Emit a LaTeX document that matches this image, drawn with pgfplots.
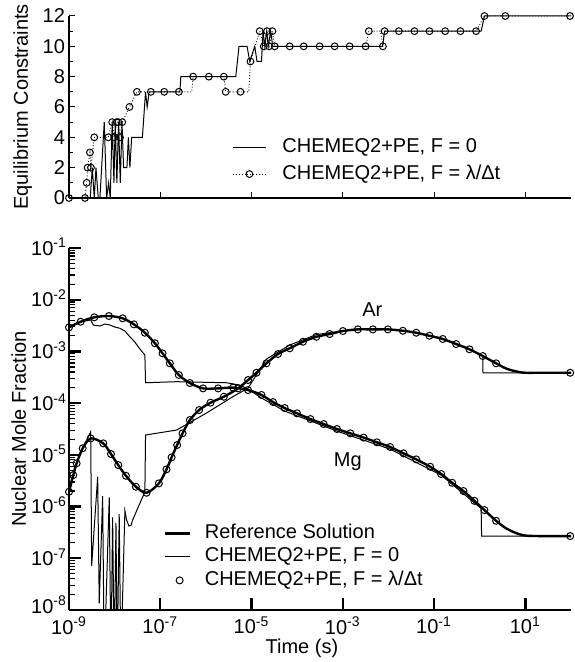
\documentclass[border=0pt]{standalone}
\usepackage{fontspec}
\setmainfont{Liberation Sans}
\usepackage{pgfplots}
\pgfplotsset{compat=1.18}
\begin{document}
\begin{tikzpicture}
\begin{axis}[
  at={(0,0)}, anchor=south west,
  scale only axis, width=251pt, height=91pt,
  xmode=log, xmin=1e-9, xmax=1e2, ymin=0, ymax=12,
  axis lines=left, axis line style={-, line width=0.6pt},
  tick align=inside, xminorticks=false,
  xtick={1e-9,1e-7,1e-5,1e-3,1e-1,1e1}, xticklabels={},
  ytick={0,2,4,6,8,10,12}, yticklabels={0,2,4,6,8,10,12},
  yticklabel style={xshift=1.5pt},
  minor ytick={1,3,5,7,9,11},
  major tick length=3pt, minor tick length=2pt,
  major tick style={black, line width=0.5pt}, minor tick style={black, line width=0.5pt},
  ylabel={Equilibrium Constraints},
  ylabel style={at={(axis description cs:-0.0817,0.5)}, anchor=base},
  clip mode=individual,
  legend cell align=left,
  legend style={at={(axis description cs:0.3247,0.3352)}, anchor=north west, draw=none, fill=none,
    inner sep=0pt, row sep=3.35pt, column sep=8pt,
    nodes={inner sep=0pt, text height=7.5pt, text depth=2.5pt}},
]
\addplot[black, line width=0.5pt, forget plot] coordinates {
(1e-9,0) (2.92e-9,0) (3.24e-9,2) (3.58e-9,0) (3.90e-9,2) (4.38e-9,0) (4.76e-9,0) (5.92e-9,5) (6.68e-9,0) (7.40e-9,1) (8.02e-9,0) (8.85e-9,5) (9.66e-9,1) (1.03e-8,5) (1.12e-8,1) (1.22e-8,5) (1.33e-8,1) (1.45e-8,5) (1.57e-8,2) (1.86e-8,2) (2.00e-8,4) (2.16e-8,2) (2.36e-8,4) (4.06e-8,4) (4.76e-8,7) (5.16e-8,6) (5.71e-8,7) (2.69e-7,7) (2.82e-7,8) (4.51e-6,8) (5.32e-6,10) (7.98e-6,10) (9.14e-6,9) (1.175e-5,10) (1.32e-5,9) (1.65e-5,9) (1.79e-5,11) (1.95e-5,10) (2.15e-5,11) (2.32e-5,10) (2.63e-5,11) (2.91e-5,10) (7.43e-3,10) (8.22e-3,11) (1.074,11) (1.268,12) (100,12)
};
\addplot[black, line width=0.45pt, densely dotted, forget plot] coordinates {
(1e-9,0) (2.24e-9,0) (2.44e-9,1) (2.56e-9,2) (2.88e-9,3) (3.03e-9,2) (3.58e-9,4) (7.24e-9,4) (8.85e-9,5) (9.79e-9,4) (1.107e-8,5) (1.20e-8,5) (1.306e-8,4) (1.466e-8,5) (2.11e-8,6) (3.08e-8,7) (6.22e-8,7) (1.22e-7,7) (2.55e-7,7) (4.91e-7,7) (5.25e-7,8) (1.16e-6,8) (2.47e-6,8) (2.72e-6,7) (5.71e-6,7) (8.69e-6,7) (9.46e-6,9) (1.51e-5,11) (1.85e-5,10) (2.18e-5,11) (2.42e-5,10) (2.86e-5,11) (3.22e-5,10) (6.86e-5,10) (1.39e-4,10) (3.10e-4,10) (6.62e-4,10) (1.41e-3,10) (3.16e-3,10) (3.72e-3,11) (6.71e-3,11) (7.55e-3,10) (8.22e-3,11) (1.69e-2,11) (3.72e-2,11) (7.92e-2,11) (0.175,11) (0.378,11) (0.834,11) (1.268,12) (3.648,12) (95,12)
};
\addplot[only marks, mark=o, mark size=1.7pt, mark options={black, line width=0.5pt}, forget plot] coordinates {
(1e-9,0) (2.24e-9,0) (2.44e-9,1) (2.56e-9,2) (2.88e-9,3) (3.03e-9,2) (3.58e-9,4) (7.24e-9,4) (8.85e-9,5) (9.79e-9,4) (1.107e-8,5) (1.20e-8,5) (1.306e-8,4) (1.466e-8,5) (2.11e-8,6) (3.08e-8,7) (6.22e-8,7) (1.22e-7,7) (2.55e-7,7) (5.25e-7,8) (1.16e-6,8) (2.47e-6,8) (2.72e-6,7) (5.71e-6,7) (9.46e-6,9) (1.51e-5,11) (1.85e-5,10) (2.18e-5,11) (2.42e-5,10) (2.86e-5,11) (3.22e-5,10) (6.86e-5,10) (1.39e-4,10) (3.10e-4,10) (6.62e-4,10) (1.41e-3,10) (3.16e-3,10) (3.72e-3,11) (7.55e-3,10) (8.22e-3,11) (1.69e-2,11) (3.72e-2,11) (7.92e-2,11) (0.175,11) (0.378,11) (0.834,11) (1.268,12) (3.648,12) (95,12)
};
\addlegendimage{legend image code/.code={\draw[black, line width=0.5pt] (0pt,0pt) -- (16.5pt,0pt);}}
\addlegendentry{CHEMEQ2+PE, F = 0}
\addlegendimage{legend image code/.code={\draw[black, line width=0.45pt, densely dotted] (0pt,0pt) -- (16.5pt,0pt); \draw[black, line width=0.5pt, solid] (8.25pt,0pt) circle (1.7pt);}}
\addlegendentry{CHEMEQ2+PE, F = λ/Δt}
\end{axis}

\begin{axis}[
  at={(0,-25pt)}, anchor=north west,
  scale only axis, width=251pt, height=181pt,
  xmode=log, ymode=log, xmin=1e-9, xmax=1e2, ymin=1e-8, ymax=1e-1,
  axis lines=left, axis line style={-, line width=1.3pt},
  tick align=inside, xminorticks=false,
  xtick={1e-9,1e-7,1e-5,1e-3,1e-1,1e1},
  xticklabels={10\textsuperscript{-9},10\textsuperscript{-7},10\textsuperscript{-5},10\textsuperscript{-3},10\textsuperscript{-1},10\textsuperscript{1}},
  ytick={1e-7,1e-6,1e-5,1e-4,1e-3,1e-2,1e-1},
  yticklabels={10\textsuperscript{-7},10\textsuperscript{-6},10\textsuperscript{-5},10\textsuperscript{-4},10\textsuperscript{-3},10\textsuperscript{-2},10\textsuperscript{-1}},
  yticklabel style={xshift=2.5pt, yshift=0.6pt},
  extra y ticks={1e-8}, extra y tick labels={10\textsuperscript{-8}},
  extra y tick style={grid=none, yticklabel style={yshift=2pt}},
  minor ytick={2e-8,3e-8,4e-8,5e-8,6e-8,7e-8,8e-8,9e-8,2e-7,3e-7,4e-7,5e-7,6e-7,7e-7,8e-7,9e-7,2e-6,3e-6,4e-6,5e-6,6e-6,7e-6,8e-6,9e-6,2e-5,3e-5,4e-5,5e-5,6e-5,7e-5,8e-5,9e-5,2e-4,3e-4,4e-4,5e-4,6e-4,7e-4,8e-4,9e-4,2e-3,3e-3,4e-3,5e-3,6e-3,7e-3,8e-3,9e-3,2e-2,3e-2,4e-2,5e-2,6e-2,7e-2,8e-2,9e-2},
  major tick length=6pt, minor tick length=3pt,
  major tick style={black, line width=1.2pt}, minor tick style={black, line width=0.6pt},
  xlabel={Time (s)},
  xlabel style={at={(axis description cs:0.464,-0.1188)}, anchor=base},
  ylabel={Nuclear Mole Fraction},
  ylabel style={at={(axis description cs:-0.0857,0.5)}, anchor=base},
  clip mode=individual,
  legend cell align=left,
  legend style={at={(axis description cs:0.1873,0.2403)}, anchor=north west, draw=none, fill=none,
    inner sep=0pt, row sep=1.75pt, column sep=7pt,
    nodes={inner sep=0pt, text height=7.5pt, text depth=2.5pt}},
]
% Mg reference
\addplot[black, line width=1.2pt, smooth, tension=0.5, forget plot] coordinates {
(1e-9,2.92e-3) (1.80e-9,3.75e-3) (3.58e-9,4.57e-3) (7.50e-9,4.84e-3) (1.50e-8,4.37e-3) (2.64e-8,3.34e-3) (4.60e-8,2.30e-3) (7.62e-8,1.44e-3) (1.122e-7,9.18e-4) (1.62e-7,5.89e-4) (2.55e-7,3.50e-4) (4.45e-7,2.45e-4) (8.69e-7,1.93e-4) (1.85e-6,1.93e-4) (3.94e-6,2.0e-4) (8.38e-6,1.79e-4) (1.65e-5,1.44e-4) (2.95e-5,1.05e-4) (5.32e-5,8.04e-5) (9.91e-5,6.35e-5) (1.95e-4,4.92e-5) (3.80e-4,3.94e-5) (7.43e-4,3.16e-5) (1.46e-3,2.61e-5) (2.85e-3,2.16e-5) (5.57e-3,1.75e-5) (1.09e-2,1.42e-5) (2.14e-2,1.07e-5) (4.06e-2,8.18e-6) (8.22e-2,5.89e-6) (0.143,4.26e-6) (0.249,2.88e-6) (0.440,2.00e-6) (0.766,1.29e-6) (1.268,8.55e-7) (2.286,5.31e-7) (4.04,3.67e-7) (8.59,2.81e-7) (20.2,2.69e-7) (100,2.69e-7)
};
% Ar reference
\addplot[black, line width=1.2pt, smooth, tension=0.5, forget plot] coordinates {
(1e-9,1.93e-6) (1.24e-9,4.06e-6) (1.47e-9,6.86e-6) (1.995e-9,1.34e-5) (2.99e-9,2.08e-5) (5.64e-9,1.67e-5) (8.30e-9,1.04e-5) (1.20e-8,6.35e-6) (1.77e-8,3.94e-6) (2.92e-8,2.42e-6) (5.01e-8,1.85e-6) (9.31e-8,2.81e-6) (1.37e-7,5.25e-6) (1.77e-7,8.95e-6) (2.34e-7,1.55e-5) (3.08e-7,2.61e-5) (4.45e-7,4.71e-5) (7.10e-7,7.36e-5) (1.26e-6,1.02e-4) (2.47e-6,1.33e-4) (5.07e-6,1.93e-4) (8.38e-6,2.80e-4) (1.28e-5,3.87e-4) (2.12e-5,5.89e-4) (3.80e-5,8.91e-4) (6.86e-5,1.15e-3) (1.34e-4,1.54e-3) (2.63e-4,1.92e-3) (5.14e-4,2.17e-3) (1.005e-3,2.48e-3) (2.14e-3,2.67e-3) (4.56e-3,2.67e-3) (9.70e-3,2.67e-3) (2.07e-2,2.51e-3) (4.06e-2,2.30e-3) (7.92e-2,2.01e-3) (0.155,1.74e-3) (0.305,1.39e-3) (0.596,1.10e-3) (1.164,8.15e-4) (2.286,5.89e-4) (4.04,4.57e-4) (8.59,3.91e-4) (20.2,3.87e-4) (100,3.87e-4)
};
% Mg F=0
\addplot[black, line width=0.5pt, forget plot] coordinates {
(1e-9,2.92e-3) (1.80e-9,3.75e-3) (2.99e-9,4.05e-3) (3.40e-9,3.24e-3) (4.76e-9,3.10e-3) (6.14e-9,3.39e-3) (7.89e-9,3.24e-3) (1.016e-8,2.96e-3) (1.306e-8,2.80e-3) (1.68e-8,2.48e-3) (2.16e-8,1.92e-3) (2.78e-8,1.52e-3) (3.28e-8,1.23e-3) (4.60e-8,8.51e-4) (4.76e-8,2.48e-4) (2.28e-7,2.60e-4) (2.82e-6,2.48e-4) (5.52e-6,2.24e-4) (8.38e-6,1.87e-4) (1.65e-5,1.26e-4) (5.32e-5,7.03e-5) (7.43e-4,2.88e-5) (1.09e-2,1.29e-5) (0.143,4.06e-6) (1.074,9.2e-7) (1.099,2.69e-7) (100,2.69e-7)
};
% Ar F=0
\addplot[black, line width=0.5pt, forget plot] coordinates {
(1e-9,1.93e-6) (1.24e-9,4.06e-6) (1.47e-9,6.86e-6) (1.995e-9,1.34e-5) (2.99e-9,2.80e-5) (3.14e-9,7.16e-8) (4.25e-9,3.77e-6) (4.60e-9,1.34e-8) (5.46e-9,1.60e-6) (5.92e-9,1e-9) (7.62e-9,1.51e-6) (8.30e-9,1e-9) (9.04e-9,6.18e-7) (9.79e-9,1e-9) (1.07e-8,4.86e-7) (1.14e-8,1e-9) (1.26e-8,7.16e-7) (1.37e-8,1e-9) (1.68e-8,8.30e-7) (1.83e-8,5.48e-7) (2.06e-8,4.20e-7) (2.28e-8,4.33e-7) (2.48e-8,5.48e-7) (4.60e-8,1.93e-6) (4.76e-8,2.42e-5) (9.79e-8,2.68e-5) (2.28e-7,3.02e-5) (1.03e-6,6.44e-5) (3.88e-6,1.33e-4) (8.38e-6,1.95e-4) (2.12e-5,7.13e-4) (6.86e-5,1.33e-3) (2.63e-4,2.12e-3) (1.005e-3,2.5e-3) (2.14e-3,2.67e-3) (4.56e-3,2.67e-3) (9.70e-3,2.67e-3) (2.07e-2,2.51e-3) (4.06e-2,2.30e-3) (7.92e-2,2.01e-3) (0.155,1.74e-3) (0.305,1.39e-3) (0.596,1.10e-3) (1.164,8.15e-4) (1.18,3.87e-4) (100,3.87e-4)
};
% circles
\addplot[only marks, mark=o, mark size=1.75pt, mark options={black, line width=0.5pt}, forget plot] coordinates {
(1e-9,2.92e-3) (1.80e-9,3.75e-3) (3.58e-9,4.57e-3) (7.50e-9,4.84e-3) (1.50e-8,4.37e-3) (2.64e-8,3.34e-3) (4.60e-8,2.30e-3) (7.62e-8,1.44e-3) (1.122e-7,9.18e-4) (1.62e-7,5.89e-4) (2.55e-7,3.50e-4) (4.45e-7,2.45e-4) (8.69e-7,1.93e-4) (1.85e-6,1.93e-4) (3.94e-6,2.0e-4) (8.38e-6,1.79e-4) (1.65e-5,1.44e-4) (2.95e-5,1.05e-4) (5.32e-5,8.04e-5) (9.91e-5,6.35e-5) (1.95e-4,4.92e-5) (3.80e-4,3.94e-5) (7.43e-4,3.16e-5) (1.46e-3,2.61e-5) (2.85e-3,2.16e-5) (5.57e-3,1.75e-5) (1.09e-2,1.42e-5) (2.14e-2,1.07e-5) (4.06e-2,8.18e-6) (8.22e-2,5.89e-6) (0.143,4.26e-6) (0.249,2.88e-6) (0.440,2.00e-6) (0.766,1.29e-6) (1.268,8.55e-7) (2.286,5.31e-7) (96,2.69e-7)
(1e-9,1.93e-6) (1.24e-9,4.06e-6) (1.47e-9,6.86e-6) (1.995e-9,1.34e-5) (2.99e-9,2.08e-5) (5.64e-9,1.67e-5) (8.30e-9,1.04e-5) (1.20e-8,6.35e-6) (1.77e-8,3.94e-6) (2.92e-8,2.42e-6) (5.01e-8,1.85e-6) (9.31e-8,2.81e-6) (1.37e-7,5.25e-6) (1.77e-7,8.95e-6) (2.34e-7,1.55e-5) (3.08e-7,2.61e-5) (4.45e-7,4.71e-5) (7.10e-7,7.36e-5) (1.26e-6,1.02e-4) (2.47e-6,1.33e-4) (5.07e-6,1.93e-4) (8.38e-6,2.80e-4) (1.28e-5,3.87e-4) (2.12e-5,5.89e-4) (3.80e-5,8.91e-4) (6.86e-5,1.15e-3) (1.34e-4,1.54e-3) (2.63e-4,1.92e-3) (5.14e-4,2.17e-3) (1.005e-3,2.48e-3) (2.14e-3,2.67e-3) (4.56e-3,2.67e-3) (9.70e-3,2.67e-3) (2.07e-2,2.51e-3) (4.06e-2,2.30e-3) (7.92e-2,2.01e-3) (0.155,1.74e-3) (0.305,1.39e-3) (0.596,1.10e-3) (1.164,8.15e-4) (2.286,5.89e-4) (96,3.87e-4)
};
\addlegendimage{legend image code/.code={\draw[black, line width=1.2pt] (0pt,0pt) -- (12.5pt,0pt);}}
\addlegendentry{Reference Solution}
\addlegendimage{legend image code/.code={\draw[black, line width=0.5pt] (0pt,0pt) -- (12.5pt,0pt);}}
\addlegendentry{CHEMEQ2+PE, F = 0}
\addlegendimage{legend image code/.code={\path[draw=none, fill=none] (0pt,-0.1pt) rectangle (12.5pt,0.1pt); \draw[black, line width=0.5pt] (7.5pt,0pt) circle (1.75pt);}}
\addlegendentry{CHEMEQ2+PE, F = λ/Δt}
\node[anchor=center] at (axis cs:4.43e-3,6.32e-3) {Ar};
\node[anchor=center] at (axis cs:1.29e-3,7.36e-6) {Mg};
\end{axis}
\pgfresetboundingbox
\path[use as bounding box] (-34.5pt,-232pt) rectangle (252.5pt,99pt);
\end{tikzpicture}
\end{document}
